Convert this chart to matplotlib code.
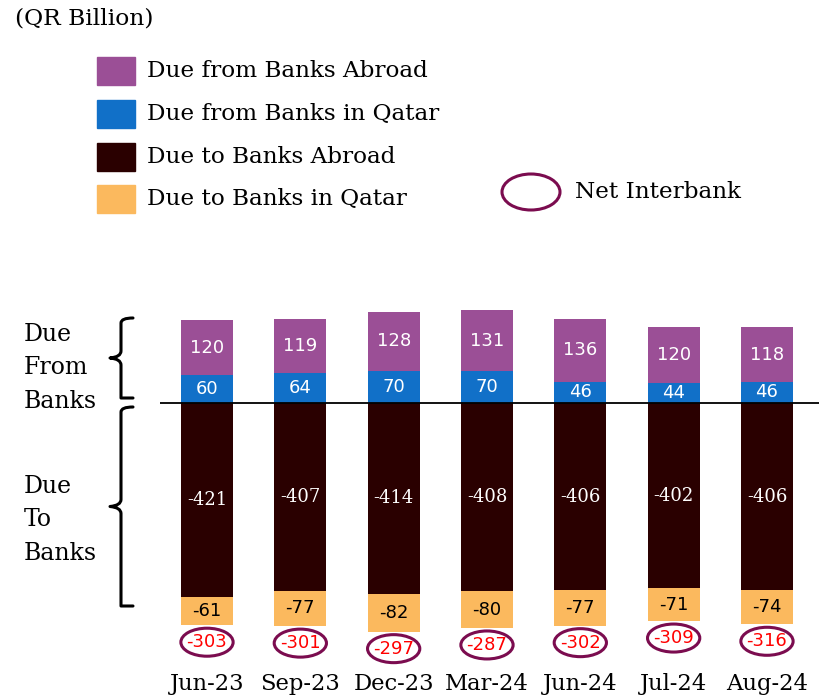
import matplotlib
matplotlib.use("Agg")
import matplotlib.pyplot as plt
from matplotlib.patches import Ellipse, Rectangle, PathPatch
from matplotlib.path import Path

categories = ["Jun-23", "Sep-23", "Dec-23", "Mar-24", "Jun-24", "Jul-24", "Aug-24"]
due_from_abroad = [120, 119, 128, 131, 136, 120, 118]
due_from_qatar = [60, 64, 70, 70, 46, 44, 46]
due_to_abroad = [-421, -407, -414, -408, -406, -402, -406]
due_to_qatar = [-61, -77, -82, -80, -77, -71, -74]
net_interbank = [-303, -301, -297, -287, -302, -309, -316]

series_labels = ["Due from Banks Abroad", "Due from Banks in Qatar",
                 "Due to Banks Abroad", "Due to Banks in Qatar"]
colors = ["#9B4F96", "#1170C8", "#2A0000", "#FBB95E"]
ell_color = "#7B0C4F"

SERIF = "DejaVu Serif"
SANS = "DejaVu Sans"

W, H = 820, 698
fig = plt.figure(figsize=(W / 100, H / 100), dpi=100)

# main axes in pixel geometry
px_per_unit = 0.461
x0_px, x1_px = 160, 820
ytop_px, ybot_px = 290, 663
zero_px = 403
step = 93.33
c0 = 207
xlim = ((x0_px - c0) / step, (x1_px - c0) / step)
ylim = (-(ybot_px - zero_px) / px_per_unit, (zero_px - ytop_px) / px_per_unit)
ax = fig.add_axes([x0_px / W, 1 - ybot_px / H, (x1_px - x0_px) / W, (ybot_px - ytop_px) / H])
ax.set_xlim(*xlim)
ax.set_ylim(*ylim)
for s in ax.spines.values():
    s.set_visible(False)
ax.set_yticks([])
x = list(range(len(categories)))
ax.set_xticks(x)
ax.set_xticklabels(categories, fontsize=16.3, family=SERIF)
ax.tick_params(axis="x", length=0, pad=7)

bw = 0.557
ax.bar(x, due_from_qatar, bw, color=colors[1])
ax.bar(x, due_from_abroad, bw, bottom=due_from_qatar, color=colors[0])
ax.bar(x, due_to_abroad, bw, color=colors[2])
ax.bar(x, due_to_qatar, bw, bottom=due_to_abroad, color=colors[3])
ax.axhline(0, color="black", lw=1.3)

for i in x:
    ax.text(i, due_from_qatar[i] + due_from_abroad[i] / 2, str(due_from_abroad[i]),
            ha="center", va="center", color="white", fontsize=13, family=SANS)
    ax.text(i, due_from_qatar[i] / 2, str(due_from_qatar[i]),
            ha="center", va="center", color="white", fontsize=13, family=SANS)
    ax.text(i, due_to_abroad[i] / 2, str(due_to_abroad[i]),
            ha="center", va="center", color="white", fontsize=13, family=SERIF)
    ax.text(i, due_to_abroad[i] + due_to_qatar[i] / 2, str(due_to_qatar[i]),
            ha="center", va="center", color="black", fontsize=13, family=SANS)
    bottom = due_to_abroad[i] + due_to_qatar[i]
    cy = bottom - 17 / px_per_unit
    ax.add_patch(Ellipse((i, cy), 0.56, 28 / px_per_unit, fill=False,
                         ec=ell_color, lw=2.2, clip_on=False))
    ax.text(i, cy, str(net_interbank[i]), ha="center", va="center",
            color="#FF0000", fontsize=13, family=SANS)

# overlay in pixel coordinates
ov = fig.add_axes([0, 0, 1, 1], zorder=-1)
ov.set_xlim(0, W)
ov.set_ylim(H, 0)
ov.axis("off")

ov.text(15, 19, "(QR Billion)", fontsize=16.8, family=SERIF, va="center", ha="left")

leg_y = [71, 114, 157, 199]
for yy, lab, col in zip(leg_y, series_labels, colors):
    ov.add_patch(Rectangle((97, yy - 14), 38, 28, color=col))
    ov.text(147, yy, lab, fontsize=16.7, family=SERIF, va="center", ha="left")

ov.add_patch(Ellipse((531, 192), 58, 36, fill=False, ec=ell_color, lw=2.2))
ov.text(575, 192, "Net Interbank", fontsize=16.7, family=SERIF, va="center", ha="left")


def brace(top, bot, xv=121, xe=133, xt=110):
    mid = (top + bot) / 2
    verts = [(xe, top), (xv, top), (xv, top + 5), (xv, top + 10),
             (xv, mid - 7), (xv, mid - 1), (xt, mid),
             (xv, mid + 1), (xv, mid + 7),
             (xv, bot - 10), (xv, bot - 5), (xv, bot), (xe, bot)]
    codes = [Path.MOVETO, Path.CURVE3, Path.CURVE3, Path.LINETO,
             Path.LINETO, Path.CURVE3, Path.CURVE3,
             Path.CURVE3, Path.CURVE3,
             Path.LINETO, Path.CURVE3, Path.CURVE3, Path.LINETO]
    ov.add_patch(PathPatch(Path(verts, codes), fill=False, lw=2.2, ec="black",
                           joinstyle="round", capstyle="round"))


brace(318, 398)
brace(407, 606)

ov.text(24, 368, "Due\nFrom\nBanks", fontsize=17, family=SERIF, va="center",
        ha="left", linespacing=1.6)
ov.text(24, 520, "Due\nTo\nBanks", fontsize=17, family=SERIF, va="center",
        ha="left", linespacing=1.6)

fig.savefig("out.png", dpi=100)
